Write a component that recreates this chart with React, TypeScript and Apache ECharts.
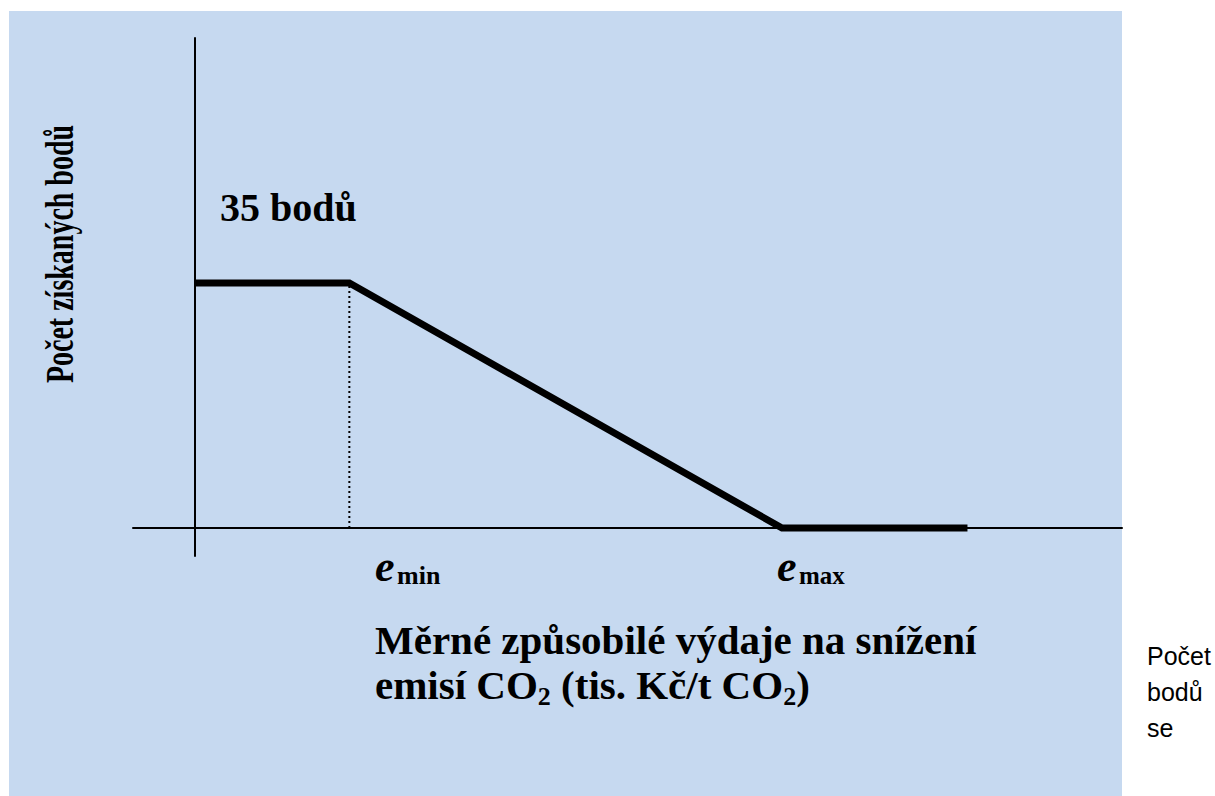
import React, { useEffect, useRef } from "react";
import * as echarts from "echarts";

// Breakpoints of the scoring function (x in arbitrary units of specific costs)
const xBreaks: number[] = [0, 10, 38, 50];
const pointValues: number[] = [35, 35, 0, 0];
const eMinX = 10;
const maxPoints = 35;

const yTitle = "Počet získaných bodů";
const pointsLabel = "35 bodů";
const xTitleLine1 = "Měrné způsobilé výdaje na snížení";
const sideNote = ["Počet", "bodů", "se"];

const SERIF = "'Liberation Serif', 'Times New Roman', serif";
const SANS = "'Liberation Sans', Arial, sans-serif";

export default function App() {
  const ref = useRef<HTMLDivElement>(null);

  useEffect(() => {
    if (!ref.current) return;
    const chart = echarts.init(ref.current, undefined, { renderer: "svg" });
    const lineData = xBreaks.map((x, i) => [x, pointValues[i]]);

    const txt = (x: number, y: number, text: string, font: string, extra: any = {}) => ({
      type: "text",
      x,
      y,
      ...extra,
      style: { text, font, fill: "#000", align: "left", verticalAlign: "middle" },
    });

    chart.setOption({
      animation: false,
      backgroundColor: "#ffffff",
      grid: { left: 133, right: 93, top: 38, bottom: 240, containLabel: false },
      xAxis: {
        type: "value",
        min: -4,
        max: 60,
        axisLine: { show: true, onZero: true, lineStyle: { color: "#000", width: 2 } },
        axisTick: { show: false },
        axisLabel: { show: false },
        splitLine: { show: false },
      },
      yAxis: {
        type: "value",
        min: -4,
        max: 70,
        axisLine: { show: true, onZero: true, lineStyle: { color: "#000", width: 2 } },
        axisTick: { show: false },
        axisLabel: { show: false },
        splitLine: { show: false },
      },
      series: [
        {
          type: "line",
          data: lineData,
          symbol: "none",
          lineStyle: { color: "#000", width: 7, join: "miter" },
          z: 5,
        },
        {
          type: "line",
          data: [
            [eMinX, 0],
            [eMinX, maxPoints],
          ],
          symbol: "none",
          lineStyle: { color: "#000", width: 2, type: [2, 3] },
          z: 4,
        },
      ],
      graphic: [
        {
          type: "rect",
          z: -100,
          silent: true,
          shape: { x: 9, y: 11, width: 1113, height: 790 },
          style: { fill: "#C6D9F0" },
        },
        {
          type: "text",
          x: 60,
          y: 254,
          rotation: Math.PI / 2,
          scaleY: 1.4,
          style: {
            text: yTitle,
            font: `bold 28px ${SERIF}`,
            fill: "#000",
            align: "center",
            verticalAlign: "middle",
          },
        },
        txt(220, 207, pointsLabel, `bold 40px ${SERIF}`),
        txt(375, 566, "e", `italic bold 44px ${SERIF}`),
        txt(397, 575, "min", `bold 26px ${SERIF}`),
        txt(777, 566, "e", `italic bold 44px ${SERIF}`),
        txt(799, 575, "max", `bold 25px ${SERIF}`),
        txt(375, 640, xTitleLine1, `bold 41px ${SERIF}`),
        {
          type: "text",
          x: 375,
          y: 685,
          style: {
            text: "{m|emisí CO}{s|2}{m| (tis. Kč/t CO}{s|2}{m|)}",
            align: "left",
            verticalAlign: "middle",
            rich: {
              m: { font: `bold 41px ${SERIF}`, fill: "#000", lineHeight: 42 },
              s: {
                font: `bold 26px ${SERIF}`,
                fill: "#000",
                lineHeight: 26,
                padding: [22, 0, 0, 0],
              },
            },
          },
        },
        {
          type: "text",
          x: 1147,
          y: 638,
          style: {
            text: sideNote.join("\n"),
            font: `25px ${SANS}`,
            fill: "#000",
            align: "left",
            verticalAlign: "top",
            lineHeight: 36,
          },
        },
      ],
    });

    return () => chart.dispose();
  }, []);

  return (
    <div
      ref={ref}
      style={{ position: "fixed", left: 0, top: 0, width: 1215, height: 796 }}
    />
  );
}
